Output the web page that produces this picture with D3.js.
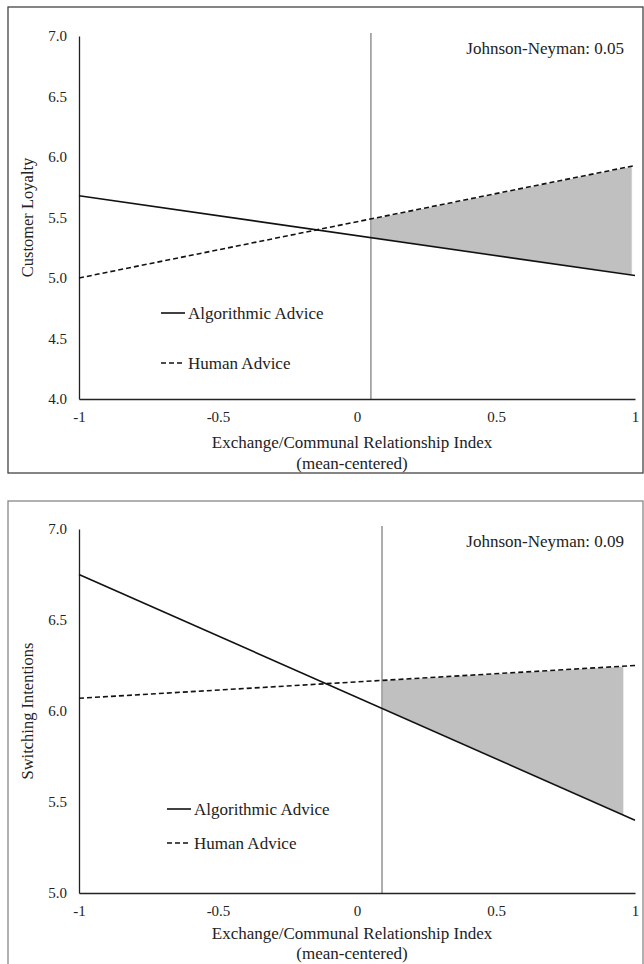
<!DOCTYPE html>
<html lang="en">
<head>
  <meta charset="UTF-8" />
  <title>Johnson-Neyman plots</title>
  <script src="https://d3js.org/d3.v7.min.js"></script>
  <style>
    body { margin: 0; background: #fff; }
    svg { font-family: "Liberation Serif", "Times New Roman", serif; }
    .line { fill: none; stroke: #111; stroke-width: 1.6px; }
    .dashed { stroke-dasharray: 5,3; }
  </style>
</head>
<body>
  <svg width="644" height="964"></svg>

  <script>
    // panel data
    const xEnds = [-1, 1];
    const xTicks = [-1, -0.5, 0, 0.5, 1];
    const xTickLabels = ["-1", "-0.5", "0", "0.5", "1"];

    const loyaltyAlgo = [5.68, 5.02];
    const loyaltyHuman = [5.0, 5.93];
    const loyaltyTicks = [4.0, 4.5, 5.0, 5.5, 6.0, 6.5, 7.0];
    const loyaltyJN = 0.05;
    const loyaltyShadeEnd = 0.99;

    const switchAlgo = [6.75, 5.40];
    const switchHuman = [6.07, 6.25];
    const switchTicks = [5.0, 5.5, 6.0, 6.5, 7.0];
    const switchJN = 0.09;
    const switchShadeEnd = 0.96;

    const svg = d3.select("svg");

    function panel(opt) {
      const g = svg.append("g");

      g.append("rect")
        .attr("x", opt.frame[0]).attr("y", opt.frame[1])
        .attr("width", opt.frame[2]).attr("height", opt.frame[3])
        .attr("fill", "none").attr("stroke", opt.frameColor).attr("stroke-width", 1.3);

      const x = d3.scaleLinear().domain([-1, 1]).range([79, 635]);
      const y = d3.scaleLinear().domain(d3.extent(opt.yTicks)).range([opt.bottom, opt.top]);

      // linear value along a line at a given x
      const at = (vals, xv) => vals[0] + (vals[1] - vals[0]) * (xv - xEnds[0]) / (xEnds[1] - xEnds[0]);

      // shaded region of significance
      const xs = [opt.jn, opt.shadeEnd];
      const poly = xs.map(v => [x(v), y(at(opt.human, v))])
        .concat(xs.slice().reverse().map(v => [x(v), y(at(opt.algo, v))]));
      g.append("path")
        .attr("d", d3.line()(poly) + "Z")
        .attr("fill", "#c0c0c0")
        .attr("stroke", "#fff").attr("stroke-width", 1);

      // J-N vertical line
      g.append("line")
        .attr("x1", x(opt.jn)).attr("x2", x(opt.jn))
        .attr("y1", y.range()[1] - 3).attr("y2", y.range()[0])
        .attr("stroke", "#999").attr("stroke-width", 1.6);

      const yAxis = g.append("g")
        .attr("transform", "translate(79,0)")
        .call(d3.axisLeft(y).tickValues(opt.yTicks).tickFormat(d3.format(".1f")).tickSize(0).tickPadding(12));
      const xAxis = g.append("g")
        .attr("transform", `translate(0,${opt.bottom})`)
        .call(d3.axisBottom(x).tickValues(xTicks).tickFormat((d, i) => xTickLabels[i]).tickSize(0).tickPadding(12));
      [xAxis, yAxis].forEach(a => {
        a.select(".domain").attr("stroke", "#222").attr("stroke-width", 1.3);
        a.selectAll("text").attr("font-family", "Liberation Serif").attr("font-size", 15).attr("fill", "#222");
      });

      const line = d3.line().x((d, i) => x(xEnds[i])).y(d => y(d));
      g.append("path").datum(opt.algo).attr("class", "line").attr("d", line);
      g.append("path").datum(opt.human).attr("class", "line dashed").attr("d", line);

      // legend
      const lg = g.append("g").attr("transform", `translate(${opt.legend[0]},${opt.legend[1]})`);
      [["Algorithmic Advice", ""], ["Human Advice", "dashed"]].forEach((d, i) => {
        const yy = i * opt.legend[2];
        lg.append("line").attr("class", "line " + d[1])
          .attr("x1", 0).attr("x2", 24).attr("y1", yy).attr("y2", yy);
        lg.append("text").attr("x", 27).attr("y", yy).attr("dy", "0.35em")
          .attr("font-size", 17).attr("fill", "#222").text(d[0]);
      });

      g.append("text")
        .attr("x", 624).attr("y", opt.top + 12).attr("dy", "0.35em")
        .attr("text-anchor", "end").attr("font-size", 17).attr("fill", "#222")
        .text("Johnson-Neyman: " + d3.format(".2f")(opt.jn));

      g.append("text")
        .attr("transform", `translate(27,${(opt.top + opt.bottom) / 2}) rotate(-90)`)
        .attr("text-anchor", "middle").attr("dy", "0.35em")
        .attr("font-size", 16.5).attr("fill", "#222").text(opt.yTitle);

      g.append("text")
        .attr("x", 352).attr("y", opt.bottom + opt.titleOff[0]).attr("dy", "0.35em")
        .attr("text-anchor", "middle").attr("font-size", 17).attr("fill", "#222")
        .text("Exchange/Communal Relationship Index");
      g.append("text")
        .attr("x", 352).attr("y", opt.bottom + opt.titleOff[1]).attr("dy", "0.35em")
        .attr("text-anchor", "middle").attr("font-size", 17).attr("fill", "#222")
        .text("(mean-centered)");
    }

    panel({
      frame: [8, 7, 635, 466], frameColor: "#444",
      top: 36, bottom: 399, yTicks: loyaltyTicks, yTitle: "Customer Loyalty",
      algo: loyaltyAlgo, human: loyaltyHuman, jn: loyaltyJN, shadeEnd: loyaltyShadeEnd,
      legend: [161, 313, 50], titleOff: [43, 64]
    });

    panel({
      frame: [8, 501, 635, 480], frameColor: "#888",
      top: 529, bottom: 893, yTicks: switchTicks, yTitle: "Switching Intentions",
      algo: switchAlgo, human: switchHuman, jn: switchJN, shadeEnd: switchShadeEnd,
      legend: [167, 809, 34], titleOff: [40, 60]
    });
  </script>
</body>
</html>
